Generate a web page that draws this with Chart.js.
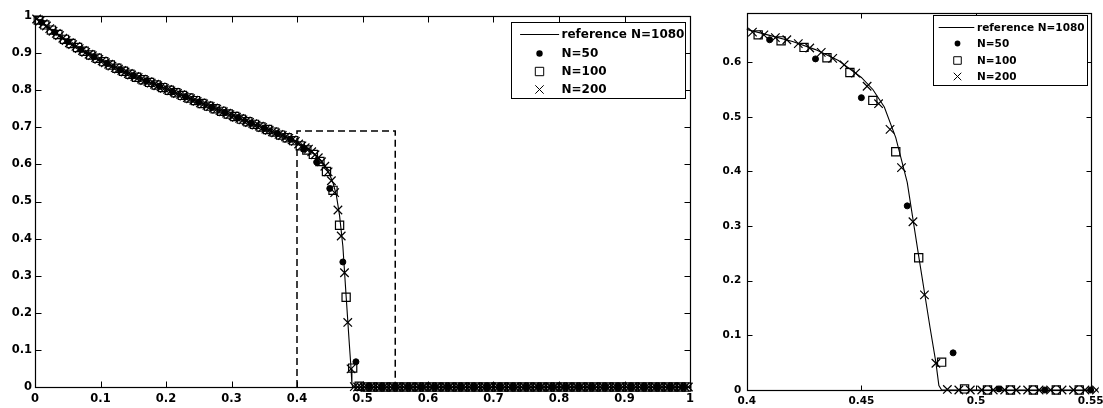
<!DOCTYPE html>
<html>
<head>
<meta charset="utf-8">
<script src="https://cdn.jsdelivr.net/npm/chart.js@4.4.1/dist/chart.umd.min.js"></script>
<style>
  html, body { margin: 0; padding: 0; background: #fff; }
  #wrap { position: relative; width: 1103px; height: 408px; overflow: hidden; }
  #left { position: absolute; left: 0; top: 0; }
  #right { position: absolute; left: 700px; top: 0; }
</style>
</head>
<body>
<div id="wrap">
  <canvas id="left" width="700" height="408"></canvas>
  <canvas id="right" width="403" height="408"></canvas>
</div>
<script>
// reference solution N=1080
const refX = [0, 0.01, 0.02, 0.03, 0.04, 0.05, 0.06, 0.07, 0.08, 0.09,
    0.10, 0.11, 0.12, 0.13, 0.14, 0.15, 0.16, 0.17, 0.18, 0.19,
    0.20, 0.21, 0.22, 0.23, 0.24, 0.25, 0.26, 0.27, 0.28, 0.29,
    0.30, 0.31, 0.32, 0.33, 0.34, 0.35, 0.36, 0.37, 0.38, 0.39,
    0.40, 0.41, 0.42, 0.43, 0.44, 0.45, 0.455, 0.46, 0.465, 0.47,
    0.475, 0.48, 0.4825, 0.4838, 0.485, 1];
const refY = [0.995, 0.983, 0.969, 0.956, 0.943, 0.931, 0.920, 0.910, 0.900, 0.890,
    0.881, 0.872, 0.863, 0.855, 0.847, 0.839, 0.832, 0.825, 0.818, 0.811,
    0.804, 0.796, 0.789, 0.782, 0.775, 0.768, 0.761, 0.754, 0.747, 0.740,
    0.733, 0.726, 0.718, 0.711, 0.704, 0.697, 0.690, 0.683, 0.676, 0.668,
    0.660, 0.649, 0.638, 0.623, 0.603, 0.572, 0.550, 0.518, 0.462, 0.380,
    0.245, 0.113, 0.050, 0.008, 0, 0];

// cell values, cell centers at (i + 0.5) / N
const n50Y = [0.983, 0.956, 0.931, 0.910, 0.890, 0.872, 0.855, 0.839, 0.825, 0.811,
    0.796, 0.782, 0.768, 0.754, 0.740, 0.726, 0.711, 0.697, 0.683, 0.668,
    0.641, 0.606, 0.535, 0.337, 0.068, 0.002, 0, 0, 0, 0,
    0, 0, 0, 0, 0, 0, 0, 0, 0, 0,
    0, 0, 0, 0, 0, 0, 0, 0, 0, 0];

const n100Y = [0.989, 0.976, 0.962, 0.950, 0.937, 0.926, 0.915, 0.905, 0.895, 0.886,
    0.877, 0.868, 0.859, 0.851, 0.843, 0.835, 0.828, 0.821, 0.814, 0.807,
    0.800, 0.793, 0.786, 0.779, 0.772, 0.764, 0.757, 0.750, 0.743, 0.736,
    0.729, 0.722, 0.715, 0.708, 0.701, 0.694, 0.687, 0.679, 0.672, 0.664,
    0.650, 0.639, 0.627, 0.608, 0.581, 0.530, 0.436, 0.242, 0.051, 0.002,
    0, 0, 0, 0, 0, 0, 0, 0, 0, 0,
    0, 0, 0, 0, 0, 0, 0, 0, 0, 0,
    0, 0, 0, 0, 0, 0, 0, 0, 0, 0,
    0, 0, 0, 0, 0, 0, 0, 0, 0, 0,
    0, 0, 0, 0, 0, 0, 0, 0, 0, 0];

const n200Y = [0.992, 0.986, 0.979, 0.973, 0.966, 0.959, 0.953, 0.947, 0.940, 0.934,
    0.928, 0.923, 0.918, 0.912, 0.907, 0.902, 0.897, 0.893, 0.888, 0.883,
    0.879, 0.874, 0.870, 0.865, 0.861, 0.857, 0.853, 0.849, 0.845, 0.841,
    0.837, 0.834, 0.830, 0.826, 0.823, 0.819, 0.816, 0.812, 0.809, 0.805,
    0.802, 0.798, 0.795, 0.791, 0.788, 0.784, 0.780, 0.777, 0.773, 0.770,
    0.766, 0.763, 0.759, 0.756, 0.752, 0.749, 0.745, 0.742, 0.738, 0.734,
    0.731, 0.727, 0.724, 0.720, 0.717, 0.713, 0.710, 0.706, 0.703, 0.699,
    0.695, 0.692, 0.688, 0.685, 0.681, 0.678, 0.674, 0.670, 0.666, 0.662,
    0.655, 0.650, 0.645, 0.641, 0.634, 0.626, 0.618, 0.607, 0.595, 0.580,
    0.556, 0.524, 0.477, 0.407, 0.308, 0.174, 0.049, 0.001, 0, 0,
    0, 0, 0, 0, 0, 0, 0, 0, 0, 0,
    0, 0, 0, 0, 0, 0, 0, 0, 0, 0,
    0, 0, 0, 0, 0, 0, 0, 0, 0, 0,
    0, 0, 0, 0, 0, 0, 0, 0, 0, 0,
    0, 0, 0, 0, 0, 0, 0, 0, 0, 0,
    0, 0, 0, 0, 0, 0, 0, 0, 0, 0,
    0, 0, 0, 0, 0, 0, 0, 0, 0, 0,
    0, 0, 0, 0, 0, 0, 0, 0, 0, 0,
    0, 0, 0, 0, 0, 0, 0, 0, 0, 0,
    0, 0, 0, 0, 0, 0, 0, 0, 0, 0];

// dashed zoom window on the left plot
const boxX = [0.4, 0.4, 0.55, 0.55];
const boxY = [0, 0.69, 0.69, 0];

const fullXTicks = [0, 0.1, 0.2, 0.3, 0.4, 0.5, 0.6, 0.7, 0.8, 0.9, 1];
const fullYTicks = [0, 0.1, 0.2, 0.3, 0.4, 0.5, 0.6, 0.7, 0.8, 0.9, 1];
const zoomXTicks = [0.4, 0.45, 0.5, 0.55];
const zoomYTicks = [0, 0.1, 0.2, 0.3, 0.4, 0.5, 0.6];
const zoomYMax = 0.69;

const legendLabels = ['reference N=1080', 'N=50', 'N=100', 'N=200'];

function cells(vals) {
    const n = vals.length;
    return vals.map((v, i) => ({ x: (i + 0.5) / n, y: v }));
}
function pairs(xs, ys) {
    return xs.map((x, i) => ({ x: x, y: ys[i] }));
}

// box + inward ticks on all four sides, like matlab
const frameTicks = {
    id: 'frameTicks',
    beforeDatasetsDraw(chart, args, opts) {
        const ctx = chart.ctx;
        const a = chart.chartArea;
        const xs = chart.scales.x, ys = chart.scales.y;
        const len = opts.len;
        const L = Math.round(a.left) + 0.5, R = Math.round(a.right) + 0.5;
        const T = Math.round(a.top) + 0.5, B = Math.round(a.bottom) + 0.5;
        ctx.save();
        ctx.strokeStyle = '#000';
        ctx.lineWidth = 1.2;
        ctx.strokeRect(L, T, R - L, B - T);
        ctx.lineWidth = 1;
        ctx.beginPath();
        xs.ticks.forEach(t => {
            const px = Math.round(xs.getPixelForValue(t.value)) + 0.5;
            ctx.moveTo(px, B); ctx.lineTo(px, B - len);
            ctx.moveTo(px, T); ctx.lineTo(px, T + len);
        });
        ys.ticks.forEach(t => {
            const py = Math.round(ys.getPixelForValue(t.value)) + 0.5;
            ctx.moveTo(L, py); ctx.lineTo(L + len, py);
            ctx.moveTo(R, py); ctx.lineTo(R - len, py);
        });
        ctx.stroke();
        ctx.restore();
    }
};

// boxed legend in the upper right corner
const boxLegend = {
    id: 'boxLegend',
    afterDraw(chart, args, o) {
        const ctx = chart.ctx;
        const a = chart.chartArea;
        const left = Math.round(a.right - o.right - o.width) + 0.5;
        const top = Math.round(a.top + o.top) + 0.5;
        const s = o.scale;
        ctx.save();
        ctx.fillStyle = '#fff';
        ctx.fillRect(left, top, o.width, o.height);
        ctx.strokeStyle = '#000';
        ctx.lineWidth = 1;
        ctx.strokeRect(left, top, Math.round(o.width), Math.round(o.height));
        ctx.font = 'bold ' + o.fontSize + 'px "DejaVu Sans"';
        ctx.textBaseline = 'middle';
        ctx.textAlign = 'left';
        legendLabels.forEach((label, i) => {
            const yy = Math.round(top + o.rows[i]) + 0.5;
            const mx = Math.round(left + o.markX) + 0.5;
            ctx.beginPath();
            if (i === 0) {
                ctx.moveTo(left + o.lineX0, yy);
                ctx.lineTo(left + o.lineX1, yy);
                ctx.stroke();
            } else if (i === 1) {
                ctx.fillStyle = '#000';
                ctx.arc(mx, yy, 3.2 * s, 0, Math.PI * 2);
                ctx.fill();
            } else if (i === 2) {
                const h = 4.2 * s;
                ctx.rect(mx - h, yy - h, 2 * h, 2 * h);
                ctx.stroke();
            } else {
                const h = 4.2 * s;
                ctx.moveTo(mx - h, yy - h); ctx.lineTo(mx + h, yy + h);
                ctx.moveTo(mx - h, yy + h); ctx.lineTo(mx + h, yy - h);
                ctx.stroke();
            }
            ctx.fillStyle = '#000';
            ctx.fillText(label, left + o.textX, yy + 0.5);
        });
        ctx.restore();
    }
};

function makeDatasets(markClip, withBox) {
    const sets = [
        {
            label: legendLabels[0], data: pairs(refX, refY), showLine: true,
            borderColor: '#000', borderWidth: 1.1, pointRadius: 0, order: 4, clip: 0
        },
        {
            label: legendLabels[1], data: cells(n50Y), pointStyle: 'circle', pointRadius: 3,
            pointBackgroundColor: '#000', pointBorderColor: '#000', pointBorderWidth: 1,
            order: 3, clip: markClip
        },
        {
            label: legendLabels[2], data: cells(n100Y), pointStyle: 'rect', pointRadius: 5.8,
            pointBackgroundColor: 'rgba(0,0,0,0)', pointBorderColor: '#000', pointBorderWidth: 1.2,
            order: 2, clip: markClip
        },
        {
            label: legendLabels[3], data: cells(n200Y), pointStyle: 'crossRot', pointRadius: 6,
            pointBorderColor: '#000', pointBorderWidth: 1.2, order: 1, clip: markClip
        }
    ];
    if (withBox) {
        sets.push({
            label: 'zoom window', data: pairs(boxX, boxY), showLine: true,
            borderColor: '#000', borderWidth: 1.5, borderDash: [7, 4], pointRadius: 0, order: 5
        });
    }
    return sets;
}

function axis(min, max, tickList, font, pad, fitSize, horizontal) {
    return {
        type: 'linear', min: min, max: max,
        afterBuildTicks: s => { s.ticks = tickList.map(v => ({ value: v })); },
        ticks: {
            color: '#000', font: font, padding: pad, autoSkip: false, maxRotation: 0,
            callback: v => String(v)
        },
        grid: { display: false, drawTicks: false },
        border: { display: false },
        afterFit: s => {
            if (horizontal) { s.height = fitSize; s.paddingLeft = 0; s.paddingRight = 0; }
            else { s.width = fitSize; s.paddingTop = 0; s.paddingBottom = 0; }
        }
    };
}

const leftFont = { family: 'DejaVu Sans', size: 11.5, weight: 'bold' };
const rightFont = { family: 'DejaVu Sans', size: 10.5, weight: 'bold' };

new Chart(document.getElementById('left'), {
    type: 'scatter',
    data: { datasets: makeDatasets(false, true) },
    options: {
        responsive: false, animation: false, events: [],
        layout: { padding: { left: 0, right: 10, top: 16, bottom: 0 } },
        scales: {
            x: axis(0, 1, fullXTicks, leftFont, 5, 21, true),
            y: axis(0, 1, fullYTicks, leftFont, 3, 35, false)
        },
        plugins: {
            legend: { display: false }, tooltip: { enabled: false },
            frameTicks: { len: 6 },
            boxLegend: {
                right: 5.7, top: 6, width: 173.6, height: 75.6, rows: [11.6, 30, 48.3, 66],
                lineX0: 8.6, lineX1: 47.6, markX: 27, textX: 50, fontSize: 12, scale: 1
            }
        }
    },
    plugins: [frameTicks, boxLegend]
});

new Chart(document.getElementById('right'), {
    type: 'scatter',
    data: { datasets: makeDatasets({ left: 0, top: 0, right: 8, bottom: 8 }, false) },
    options: {
        responsive: false, animation: false, events: [],
        layout: { padding: { left: 0, right: 12.3, top: 13, bottom: 0 } },
        scales: {
            x: axis(0.4, 0.55, zoomXTicks, rightFont, 5, 18, true),
            y: axis(0, zoomYMax, zoomYTicks, rightFont, 5.5, 46.7, false)
        },
        plugins: {
            legend: { display: false }, tooltip: { enabled: false },
            frameTicks: { len: 5 },
            boxLegend: {
                right: 4.7, top: 2, width: 153.5, height: 70, rows: [11.7, 27.7, 44.3, 60.7],
                lineX0: 5.2, lineX1: 40.8, markX: 23.5, textX: 43.5, fontSize: 10.5, scale: 0.9
            }
        }
    },
    plugins: [frameTicks, boxLegend]
});
</script>
</body>
</html>
